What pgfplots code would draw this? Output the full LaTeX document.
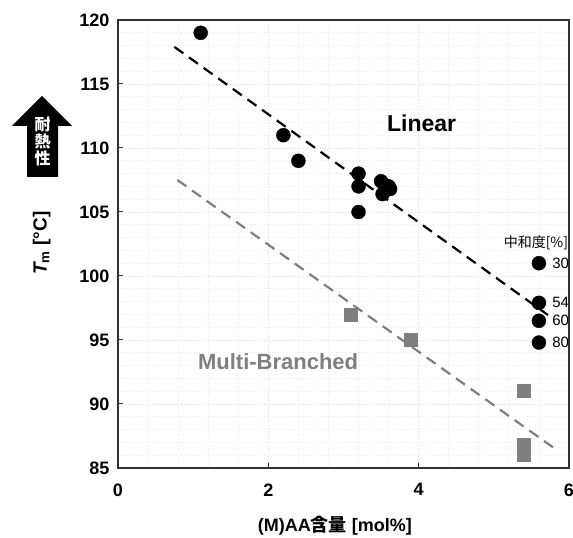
\documentclass[border=0pt]{standalone}
\usepackage{pgfplots}
\pgfplotsset{compat=1.18}
\usepackage{fontspec}
\setmainfont{Liberation Sans}
\newfontfamily\cjk{Noto Sans CJK JP}
\definecolor{mbgray}{HTML}{7F7F7F}
\begin{document}
\begin{tikzpicture}[x=1pt,y=1pt]
\path[use as bounding box] (0,0) rectangle (573,538);
\begin{axis}[
  at={(118pt,70pt)}, anchor=south west,
  scale only axis, width=451pt, height=448pt,
  xmin=0, xmax=6, ymin=85, ymax=120,
  xtick={0,2,4,6}, ytick={85,90,...,120},
  minor x tick num=4, minor y tick num=4,
  grid=both,
  major grid style={draw=black!12, line width=0.8pt, dotted},
  minor grid style={draw=black!8, line width=0.8pt, dotted},
  tick align=inside, tick pos=left,
  major tick length=5pt, minor tick length=0pt,
  axis line style={draw=black!80, line width=1.3pt},
  every tick/.style={draw=black!80, line width=1pt},
  /pgf/number format/assume math mode=true,
  tick label style={font=\fontsize{18}{20}\selectfont\bfseries},
  xticklabel style={yshift=-12pt},
  yticklabel style={xshift=-5pt},
  xlabel={\bfseries (M)AA{\cjk\bfseries 含量} [mol\%]},
  xlabel style={font=\fontsize{18}{21}\selectfont, at={(rel axis cs:0.481,-0.128)}, anchor=center, inner sep=0pt},
  ylabel={\bfseries\itshape T\textsubscript{\upshape m}\upshape\ [°C]},
  ylabel style={font=\fontsize{19}{22}\selectfont, at={(rel axis cs:-0.169,0.502)}, anchor=center},
  clip=false,
]
% fit lines
\addplot[black, line width=2.2pt, dash pattern=on 11pt off 7pt] coordinates {(0.75,117.9) (5.72,96.95)};
\addplot[mbgray, line width=2.2pt, dash pattern=on 11pt off 7pt] coordinates {(0.79,107.5) (5.79,86.6)};
% Linear
\addplot[only marks, mark=*, mark size=7pt, black] coordinates {
 (1.1,119) (2.2,111) (2.4,109) (3.2,108) (3.2,107) (3.2,105)
 (3.5,107.4) (3.6,107.0) (3.62,106.8) (3.52,106.4) (3.55,107.1)
 (5.6,101) (5.6,97.9) (5.6,96.5) (5.6,94.8)};
% Multi-branched
\addplot[only marks, mark=square*, mark size=6.5pt, mbgray] coordinates {
 (3.1,97) (3.9,95) (5.4,91) (5.4,86.0) (5.4,86.4) (5.4,86.8)};
\node[font=\fontsize{23}{26}\selectfont\bfseries] at (axis cs:4.04,111.9) {Linear};
\node[font=\fontsize{22}{25}\selectfont\bfseries, text=mbgray] at (axis cs:2.13,93.3) {Multi-Branched};
\node[font=\fontsize{14}{16}\selectfont\cjk] at (axis cs:5.56,102.6) {中和度[\%]};
\node[font=\fontsize{15}{17}\selectfont] at (axis cs:5.89,101) {30};
\node[font=\fontsize{15}{17}\selectfont] at (axis cs:5.89,97.9) {54};
\node[font=\fontsize{15}{17}\selectfont] at (axis cs:5.89,96.5) {60};
\node[font=\fontsize{15}{17}\selectfont] at (axis cs:5.89,94.8) {80};
\end{axis}
% heat-resistance arrow
\fill[black] (42,442) -- (72,412) -- (58,412) -- (58,361) -- (27,361) -- (27,412) -- (12,412) -- cycle;
\node[text=white, font=\fontsize{16}{18}\selectfont\cjk\bfseries, align=center, inner sep=0pt] at (42.5,397) {耐\\[-1pt]熱\\[-1pt]性};
\end{tikzpicture}
\end{document}
